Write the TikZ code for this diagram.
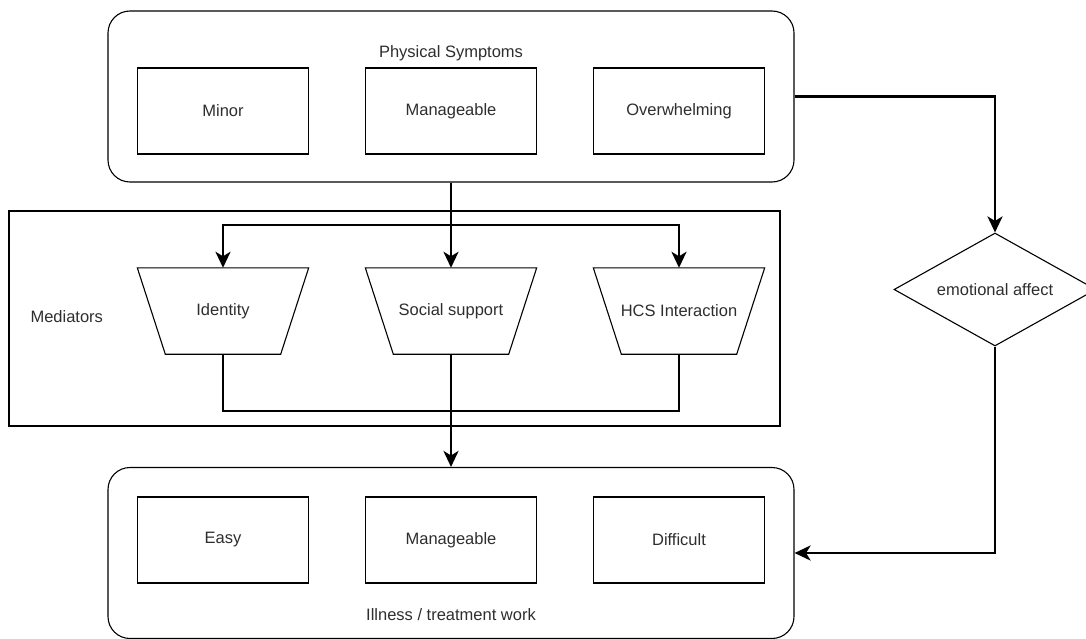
\documentclass[tikz,border=0pt]{standalone}
\usepackage{fontspec}
\setmainfont{Liberation Sans}
\usetikzlibrary{arrows.meta,shapes.geometric}
\begin{document}
\begin{tikzpicture}[x=1pt,y=-1pt,
  every node/.style={font=\fontsize{16.5}{19}\selectfont, text=black!82},
  group/.style={draw, line width=1.1pt, rounded corners=22pt, minimum width=686pt, minimum height=171pt, inner sep=0pt},
  item/.style={draw, line width=1.1pt, minimum width=171pt, minimum height=86pt, inner sep=0pt},
  mednode/.style={minimum width=171pt, minimum height=86pt, inner sep=0pt},
  trap/.style={line width=1.1pt, line join=miter},
  flow/.style={line width=2.6pt, -{Stealth[length=16pt,width=15pt,inset=4.5pt]}},
  link/.style={line width=2.6pt},
]
\useasboundingbox (0,0) rectangle (1086,639);

% physical symptoms group
\node[group] (phys) at (451,96.5) {};
\node (physlbl) at (451,53) {Physical Symptoms};
\node[item] (minor) at (223,111) {Minor};
\node[item] (manage) at (451,111) {Manageable};
\node[item] (over) at (679,111) {Overwhelming};

% mediators frame
\node[draw, line width=1.1pt, minimum width=771pt, minimum height=215pt, inner sep=0pt] (med) at (394.5,318.5) {};
\node[anchor=west] (medlbl) at (27,317) {Mediators};

% mediator trapezoids
\node[mednode] (id) at (223,311) {Identity};
\node[mednode] (soc) at (451,311) {Social support};
\node[mednode] (hcs) at (679,311) {HCS Interaction};
\foreach \n in {id,soc,hcs}{
  \draw[trap] (\n.north west) -- (\n.north east) -- ([xshift=-28pt]\n.south east)
    -- ([xshift=28pt]\n.south west) -- cycle;
}

% illness / treatment work group
\node[group] (work) at (451,553) {};
\node (worklbl) at (451,615) {Illness / treatment work};
\node[item] (easy) at (223,540) {Easy};
\node[item] (wmanage) at (451,540) {Manageable};
\node[item] (diff) at (679,540) {Difficult};

% emotional affect
\node[diamond, draw, line width=1.1pt, minimum width=202pt, minimum height=113pt,
      inner sep=0pt, aspect=1.79] (emo) at (995,289.5) {emotional affect};

% connectors
\coordinate (split) at (451,225);
\coordinate (join) at (451,411);
\draw[flow] (phys.south) -- (soc.north);
\draw[flow] (phys.south) -- (split) -| (id.north);
\draw[flow] (phys.south) -- (split) -| (hcs.north);
\draw[link] (id.south) |- (join);
\draw[link] (hcs.south) |- (join);
\draw[flow] (soc.south) -- (work.north);
\draw[flow] (phys.east) -| (emo.north);
\draw[flow] (emo.south) |- (work.east);
\end{tikzpicture}
\end{document}
